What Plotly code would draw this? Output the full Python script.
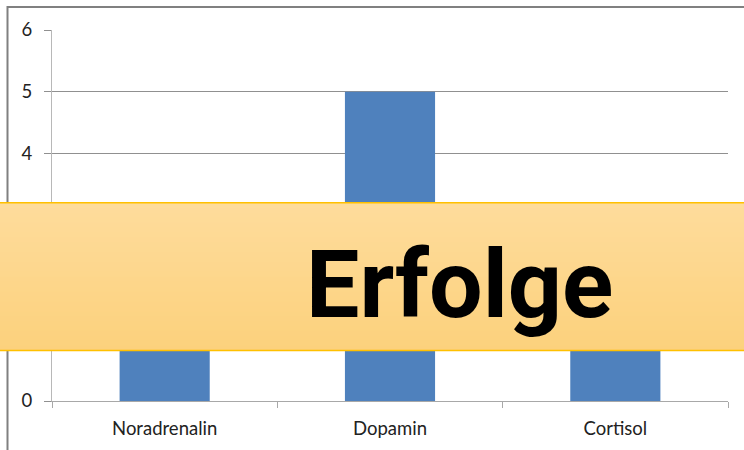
import plotly.graph_objects as go

categories = ["Noradrenalin", "Dopamin", "Cortisol"]
values = [2, 5, 3]
y_ticks = [0, 1, 2, 3, 4, 5, 6]
banner_text = "Erfolge"

W, H = 744, 450
L, R, T, B = 52, 16, 29.6, 49
pw, ph = W - L - R, H - T - B

def px_x(x):
    return (x - L) / pw

def px_y(y):
    return (H - B - y) / ph

fig = go.Figure()
fig.add_trace(go.Bar(x=categories, y=values, marker=dict(color="#4F81BD", line=dict(width=0)),
                     hoverinfo="skip"))

shapes = []
# outer frame
shapes.append(dict(type="rect", xref="paper", yref="paper",
                   x0=px_x(7.5), x1=px_x(760), y0=px_y(470), y1=px_y(6.5),
                   line=dict(color="#808080", width=2), fillcolor="rgba(0,0,0,0)", layer="above"))
# banner gradient
top_c = (254, 220, 156)
bot_c = (252, 209, 124)
y_top, y_bot = 202.5, 350.5
shapes.append(dict(type="rect", xref="paper", yref="paper",
                   x0=px_x(-10), x1=px_x(760), y0=px_y(y_bot), y1=px_y(y_top),
                   line=dict(width=0), fillcolor="rgb(253,214,140)", layer="above"))
n = 30
for i in range(n):
    f = (i + 0.5) / n
    c = tuple(round(top_c[k] + (bot_c[k] - top_c[k]) * f) for k in range(3))
    ya = y_top + (y_bot - y_top) * i / n
    yb = y_top + (y_bot - y_top) * (i + 1) / n + 2
    shapes.append(dict(type="rect", xref="paper", yref="paper",
                       x0=px_x(-10), x1=px_x(760), y0=px_y(min(yb, y_bot)), y1=px_y(ya),
                       line=dict(width=0), fillcolor="rgb(%d,%d,%d)" % c, layer="above"))
shapes.append(dict(type="rect", xref="paper", yref="paper",
                   x0=px_x(-10), x1=px_x(760), y0=px_y(y_bot), y1=px_y(y_top),
                   line=dict(color="#FFC000", width=1.5), fillcolor="rgba(0,0,0,0)", layer="above"))

fig.update_layout(
    width=W, height=H,
    margin=dict(l=L, r=R, t=T, b=B),
    paper_bgcolor="white", plot_bgcolor="white",
    bargap=0.6,
    showlegend=False,
    shapes=shapes,
    annotations=[dict(text="<b>" + banner_text + "</b>", xref="paper", yref="paper",
                      x=px_x(459.5), y=px_y(284), xanchor="center", yanchor="middle",
                      showarrow=False, font=dict(family="Roboto", size=95, color="black"))],
    font=dict(family="Lato", size=18.5, color="#222222"),
)
fig.update_yaxes(range=[0, 6], tickvals=y_ticks, showgrid=True, gridcolor="#909090", gridwidth=1,
                 showline=True, linecolor="#B8B8B8", linewidth=1, ticks="outside", ticklen=7,
                 tickcolor="#909090", ticklabelstandoff=8, zeroline=False,
                 tickfont=dict(family="Lato", size=18.5, color="#222222"))
fig.update_xaxes(showline=True, linecolor="#A8A8A8", linewidth=1, ticks="outside", ticklen=6,
                 tickcolor="#A8A8A8", tickson="boundaries", showgrid=False,
                 tickfont=dict(family="Lato", size=18.5, color="#222222"), ticklabelstandoff=11)

fig.write_html("out.html", config={"displayModeBar": False},
               post_script="document.body.style.margin='0';")
